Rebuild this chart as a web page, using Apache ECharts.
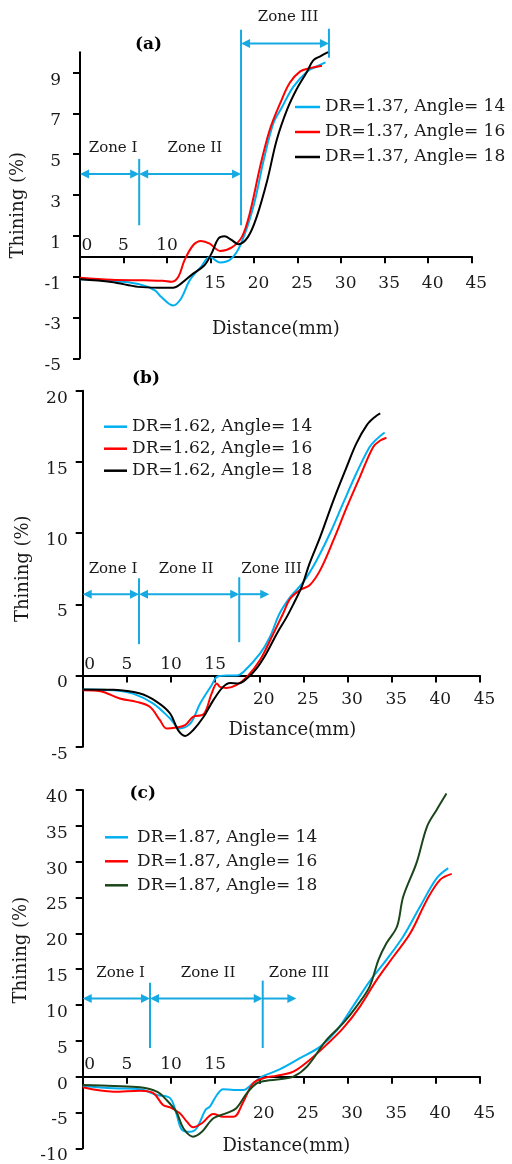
<!DOCTYPE html>
<html><head><meta charset="utf-8">
<script src="https://cdn.jsdelivr.net/npm/echarts@6/dist/echarts.min.js"></script>
<style>html,body{margin:0;padding:0;background:#fff}#c{width:512px;height:1164px}</style>
</head><body><div id="c"></div>
<script>
// ---------- tick / label values ----------
const xLabelsBelowA = [15, 20, 25, 30, 35, 40, 45];
const xLabelsAboveA = [0, 5, 10];
const xLabelsBelowBC = [20, 25, 30, 35, 40, 45];
const xLabelsAboveBC = [0, 5, 10, 15];
const yTicksA = [-5, -3, -1, 1, 3, 5, 7, 9];
const yTicksB = [-5, 0, 5, 10, 15, 20];
const yTicksC = [-10, -5, 0, 5, 10, 15, 20, 25, 30, 35, 40];
const zoneNames = ['Zone I', 'Zone II', 'Zone III'];

// ---------- panel (a) DR=1.37 ----------
const a14 = [[0,-1.13],[3.6,-1.2],[6.7,-1.36],[8.6,-1.67],[9.35,-2.0],[10.7,-2.41],[11.6,-2.08],[12.6,-1.18],[13.9,-0.52],[14.9,-0.03],[16.1,-0.31],[17.4,-0.11],[18.5,0.62],[19.9,2.4],[21.1,4.7],[22.2,6.5],[23.2,7.3],[24.5,8.3],[26.1,9.06],[27.2,9.3],[28.2,9.5]];
const a16 = [[0,-1.05],[3.6,-1.15],[7.4,-1.18],[9.5,-1.2],[10.5,-1.25],[11.3,-1.0],[12.0,-0.2],[13.0,0.54],[13.9,0.75],[14.9,0.62],[16.1,0.26],[17.4,0.42],[18.6,0.95],[19.5,2.1],[20.7,4.4],[21.8,6.2],[23.0,7.5],[24.1,8.5],[25.3,9.06],[26.4,9.22],[27.8,9.34]];
const a18 = [[0,-1.13],[3.6,-1.26],[6.7,-1.5],[9.0,-1.54],[10.7,-1.54],[11.6,-1.34],[13.0,-0.85],[14.3,-0.44],[15.1,0.13],[15.9,0.87],[16.6,0.98],[17.4,0.8],[18.2,0.59],[19.3,0.95],[20.3,1.93],[21.5,3.7],[22.6,5.7],[23.8,7.2],[24.9,8.2],[26.1,9.06],[26.8,9.6],[27.6,9.8],[28.5,10.0]];
const zoneArrowsA = [[0,6.8,4.03,1,1],[6.8,18.5,4.03,1,1],[18.5,28.6,10.43,1,1]];
const zoneDividersA = [[6.8,1.52,4.77],[18.5,1.52,11.1],[28.6,9.73,11.15]];
const zoneTextA = [[3.8,5.31],[13.2,5.31],[23.9,11.7]];

// ---------- panel (b) DR=1.62 ----------
const b14 = [[0,-0.98],[3.5,-1.03],[5.7,-1.27],[8.0,-1.97],[9.9,-3.02],[11.0,-3.72],[12.2,-3.37],[13.3,-1.97],[14.6,-0.68],[15.2,-0.1],[16.3,0],[17.4,0],[18.2,0.25],[20.1,1.55],[21.2,2.7],[22.3,4.35],[23.5,5.5],[25.0,6.57],[26.5,8.1],[28.0,9.97],[29.5,12.1],[31.0,14.2],[32.5,16.05],[33.3,16.6],[34.2,17.06]];
const b16 = [[0,-1.03],[2.0,-1.1],[4.2,-1.62],[6.1,-1.85],[7.6,-2.2],[8.75,-3.14],[9.5,-3.72],[10.6,-3.65],[11.6,-3.49],[12.5,-2.9],[13.7,-2.72],[14.6,-1.27],[15.2,-0.56],[15.55,-0.8],[16.3,-0.87],[17.4,-0.68],[18.6,-0.1],[20.1,1.1],[21.6,2.95],[22.7,4.35],[23.5,5.4],[24.6,6.0],[25.7,6.34],[26.9,7.4],[28.4,9.5],[29.9,11.8],[31.4,13.95],[32.9,16.05],[33.7,16.5],[34.4,16.7]];
const b18 = [[0,-0.98],[3.5,-1.0],[6.5,-1.27],[8.4,-1.85],[9.9,-2.67],[10.8,-3.84],[11.6,-4.24],[12.5,-3.84],[13.7,-2.9],[14.8,-1.73],[15.9,-0.8],[16.7,-0.52],[17.6,-0.56],[18.6,-0.21],[19.7,0.5],[20.8,1.55],[22.0,2.95],[23.1,4.1],[23.9,5.06],[24.8,6.22],[25.7,7.87],[26.9,9.73],[28.4,12.3],[29.9,14.65],[31.0,16.3],[32.2,17.6],[33.1,18.16],[33.7,18.4]];
const zoneArrowsB = [[0,6.38,5.71,1,1],[6.38,17.73,5.71,1,1],[17.73,21.13,5.71,0,1]];
const zoneDividersB = [[6.38,2.2,6.83],[17.73,2.34,6.9]];
const zoneTextB = [[3.43,7.46],[11.7,7.46],[21.4,7.46]];

// ---------- panel (c) DR=1.87 ----------
const c14 = [[0,-1.3],[3.5,-1.63],[6.5,-1.76],[8.4,-2.56],[9.9,-3.0],[10.6,-5.1],[11.2,-7.35],[12.15,-7.7],[12.9,-7.2],[13.9,-4.65],[14.4,-4.19],[15.2,-2.56],[15.9,-1.76],[17.1,-1.86],[18.2,-1.86],[19.3,-0.93],[20.3,0],[22.3,1.0],[24.6,2.57],[26.9,4.19],[28.8,6.5],[30.6,9.78],[32.5,13.3],[34.4,16.3],[36.3,19.55],[38.2,23.7],[40.1,27.7],[41.4,29.1]];
const c16 = [[0,-1.49],[3.5,-2.1],[6.5,-1.96],[8.0,-2.3],[9.1,-3.95],[9.9,-4.28],[11.0,-5.1],[11.8,-6.28],[12.5,-7.07],[13.5,-6.5],[14.8,-5.2],[15.9,-5.6],[17.1,-5.6],[18.2,-3.5],[19.3,-0.93],[20.45,-0.23],[22.0,0.14],[23.85,0.7],[25.7,2.33],[27.6,4.43],[29.5,6.76],[31.4,9.78],[33.3,13.5],[35.2,16.76],[37.1,20.0],[39.0,24.7],[40.5,27.5],[41.8,28.3]];
const c18 = [[0,-1.16],[3.5,-1.3],[6.5,-1.49],[8.4,-2.1],[9.5,-3.26],[10.6,-4.9],[11.4,-7.2],[12.5,-8.38],[13.5,-7.7],[14.8,-5.8],[16.3,-5.1],[17.4,-4.4],[18.6,-2.3],[19.7,-0.93],[20.8,-0.56],[22.3,-0.37],[23.85,0],[25.4,1.4],[27.6,5.1],[29.5,7.46],[31.0,9.78],[32.5,12.57],[33.5,16.3],[34.4,18.6],[35.6,20.95],[36.3,25.1],[37.8,29.8],[39.0,34.9],[40.1,37.25],[41.2,39.5]];
const zoneArrowsC = [[0,7.62,10.9,1,1],[7.62,20.39,10.9,1,1],[20.39,24.2,10.9,0,1]];
const zoneDividersC = [[7.62,4.0,13.1],[20.39,4.0,13.4]];
const zoneTextC = [[4.3,14.44],[14.2,14.44],[24.5,14.44]];

// ---------- styles ----------
const CYAN = '#00B0F0', RED = '#FF0000', BLACK = '#000000', GREEN = '#1B461B';
const ZONE_COLOR = '#17A9E1';
const SERIF = 'DejaVu Serif';
const TXT = '#1a1a1a';

const panels = [
  { label: '(a)', dr: '1.37', data: [a14, a16, a18], colors: [CYAN, RED, BLACK],
    yMin: -5, yMax: 10, yTicks: yTicksA, below: xLabelsBelowA, above: xLabelsAboveA,
    arrows: zoneArrowsA, dividers: zoneDividersA, zoneText: zoneTextA,
    L: { grid: [80, 52.2, 391.7, 306.1], title: [135, 36], belowMargin: 19, aboveMargin: 2.5,
         yLabelMargin: 19, xNameGap: 64, xNamePad: [0,0,0,0], yNameGap: 53, yNamePad: [0,0,0,0],
         legend: [295, 97], legendGap: 5, legendW: 25, legendTextPad: [0,0,0,0] } },
  { label: '(b)', dr: '1.62', data: [b14, b16, b18], colors: [CYAN, RED, BLACK],
    yMin: -5, yMax: 20, yTicks: yTicksB, below: xLabelsBelowBC, above: xLabelsAboveBC,
    arrows: zoneArrowsB, dividers: zoneDividersB, zoneText: zoneTextB,
    L: { grid: [82.7, 390.7, 397.3, 356], title: [132, 370], belowMargin: 16, aboveMargin: 2.5,
         yLabelMargin: 15, xNameGap: 46, xNamePad: [0,0,0,22], yNameGap: 50.7, yNamePad: [0,0,0,0],
         legend: [104, 416.7], legendGap: 2, legendW: 23, legendTextPad: [0,0,0,0] } },
  { label: '(c)', dr: '1.87', data: [c14, c16, c18], colors: [CYAN, RED, GREEN],
    yMin: -10, yMax: 40, yTicks: yTicksC, below: xLabelsBelowBC, above: xLabelsAboveBC,
    arrows: zoneArrowsC, dividers: zoneDividersC, zoneText: zoneTextC,
    L: { grid: [82.7, 790, 397.3, 358.3], title: [129.5, 785], belowMargin: 28, aboveMargin: 4,
         yLabelMargin: 15, xNameGap: 61, xNamePad: [0,0,0,10], yNameGap: 52, yNamePad: [0,0,0,38],
         legend: [105, 827.3], legendGap: 4, legendW: 23, legendTextPad: [0,0,0,4] } }
];
const angles = [14, 16, 18];

function arrowRender(params, api) {
  const y = api.value(2);
  const a = api.coord([api.value(0), y]);
  const b = api.coord([api.value(1), y]);
  const hl = api.value(3) > 0, hr = api.value(4) > 0;
  const HL = 9, HW = 4.5;
  const kids = [{ type: 'line', shape: { x1: a[0] + (hl ? HL - 2 : 0), y1: a[1], x2: b[0] - (hr ? HL - 2 : 0), y2: b[1] },
                  style: { stroke: ZONE_COLOR, lineWidth: 2 } }];
  if (hl) kids.push({ type: 'polygon', shape: { points: [[a[0], a[1]], [a[0] + HL, a[1] - HW], [a[0] + HL, a[1] + HW]] }, style: { fill: ZONE_COLOR } });
  if (hr) kids.push({ type: 'polygon', shape: { points: [[b[0], b[1]], [b[0] - HL, b[1] - HW], [b[0] - HL, b[1] + HW]] }, style: { fill: ZONE_COLOR } });
  return { type: 'group', children: kids };
}
function dividerRender(params, api) {
  const x = api.value(0);
  const a = api.coord([x, api.value(1)]);
  const b = api.coord([x, api.value(2)]);
  return { type: 'line', shape: { x1: a[0], y1: a[1], x2: b[0], y2: b[1] }, style: { stroke: ZONE_COLOR, lineWidth: 2 } };
}
function zoneTextRender(params, api) {
  const p = api.coord([api.value(0), api.value(1)]);
  return { type: 'text', x: p[0], y: p[1], style: { text: zoneNames[params.dataIndex], align: 'center', verticalAlign: 'middle',
           fontFamily: SERIF, fontSize: 15, fill: TXT } };
}

const option = { animation: false, backgroundColor: '#ffffff', textStyle: { fontFamily: SERIF },
  title: [], legend: [], grid: [], xAxis: [], yAxis: [], series: [] };

const lineStyle = { color: '#000', width: 2 };
panels.forEach((p, i) => {
  const L = p.L;
  const [gl, gt, gw, gh] = L.grid;
  // pixel row of value 0 on this panel's y scale (layout of the auxiliary axis grids)
  const zeroY = gt + gh * (p.yMax / (p.yMax - p.yMin));
  const g0 = 3 * i;
  option.grid.push({ left: gl, top: gt, width: gw, height: gh, containLabel: false, outerBoundsMode: 'none' });
  option.grid.push({ left: gl, top: gt, width: gw, height: zeroY - gt, containLabel: false, outerBoundsMode: 'none' });
  option.grid.push({ left: gl, top: zeroY, width: gw, height: gt + gh - zeroY, containLabel: false, outerBoundsMode: 'none' });

  option.title.push({ text: p.label, left: L.title[0], top: L.title[1], padding: 0,
    textStyle: { fontFamily: SERIF, fontWeight: 'bold', fontSize: 17, color: '#000' } });
  const names = angles.map(a => 'DR=' + p.dr + ', Angle= ' + a);
  option.legend.push({ orient: 'vertical', left: L.legend[0], top: L.legend[1], padding: 0, itemGap: L.legendGap,
    itemWidth: L.legendW, itemHeight: 2.5, icon: 'rect', selectedMode: false, data: names,
    textStyle: { fontFamily: SERIF, fontSize: 17, color: TXT, lineHeight: 20, padding: L.legendTextPad } });

  // main grid: hidden x axis carrying the data, visible y axis
  option.xAxis.push({ gridIndex: g0, type: 'value', min: 0, max: 45, interval: 5, show: false });
  option.yAxis.push({ gridIndex: g0, type: 'value', min: p.yMin, max: p.yMax, position: 'left',
    axisLine: { show: true, onZero: false, lineStyle },
    axisTick: { show: true, length: 7, customValues: p.yTicks, lineStyle },
    axisLabel: { customValues: p.yTicks, margin: L.yLabelMargin, fontFamily: SERIF, fontSize: 17, color: TXT,
                 verticalAlign: 'top', lineHeight: 15 },
    splitLine: { show: false },
    name: 'Thining (%)', nameLocation: 'middle', nameGap: L.yNameGap, nameMoveOverlap: false,
    nameTextStyle: { fontFamily: SERIF, fontSize: 18, color: TXT, padding: L.yNamePad } });
  // upper grid: visible x axis line at value 0 (its bottom edge), labels below
  option.xAxis.push({ gridIndex: g0 + 1, type: 'value', min: 0, max: 45, interval: 5, position: 'bottom',
    axisLine: { show: true, onZero: false, lineStyle },
    axisTick: { show: true, length: 7, lineStyle },
    axisLabel: { customValues: p.below, margin: L.belowMargin, fontFamily: SERIF, fontSize: 17, color: TXT, padding: [0,0,0,9] },
    splitLine: { show: false },
    name: 'Distance(mm)', nameLocation: 'middle', nameGap: L.xNameGap, nameMoveOverlap: false,
    nameTextStyle: { fontFamily: SERIF, fontSize: 18, color: TXT, padding: L.xNamePad } });
  option.yAxis.push({ gridIndex: g0 + 1, type: 'value', min: 0, max: 1, show: false });
  // lower grid: labels above the zero line
  option.xAxis.push({ gridIndex: g0 + 2, type: 'value', min: 0, max: 45, interval: 5, position: 'top',
    axisLine: { show: false, onZero: false }, axisTick: { show: false }, splitLine: { show: false },
    axisLabel: { customValues: p.above, margin: L.aboveMargin, fontFamily: SERIF, fontSize: 17, color: TXT,
      formatter: v => v === 0 ? '{z|0}' : String(v),
      rich: { z: { padding: [0,0,0,14], fontFamily: SERIF, fontSize: 17, color: TXT } } } });
  option.yAxis.push({ gridIndex: g0 + 2, type: 'value', min: 0, max: 1, show: false });

  p.data.forEach((d, k) => {
    option.series.push({ name: names[k], type: 'line', xAxisIndex: g0, yAxisIndex: g0, data: d,
      smooth: 0.35, symbol: 'none', showSymbol: false, clip: false, color: p.colors[k],
      lineStyle: { width: 2, color: p.colors[k] }, z: 3 });
  });
  option.series.push({ type: 'custom', name: 'arrows' + i, xAxisIndex: g0, yAxisIndex: g0, data: p.arrows, renderItem: arrowRender, clip: false, silent: true, z: 2 });
  option.series.push({ type: 'custom', name: 'dividers' + i, xAxisIndex: g0, yAxisIndex: g0, data: p.dividers, renderItem: dividerRender, clip: false, silent: true, z: 2 });
  option.series.push({ type: 'custom', name: 'zones' + i, xAxisIndex: g0, yAxisIndex: g0, data: p.zoneText, renderItem: zoneTextRender, clip: false, silent: true, z: 2 });
});

const chart = echarts.init(document.getElementById('c'), null, { renderer: 'canvas', width: 512, height: 1164 });
chart.setOption(option);
</script></body></html>
